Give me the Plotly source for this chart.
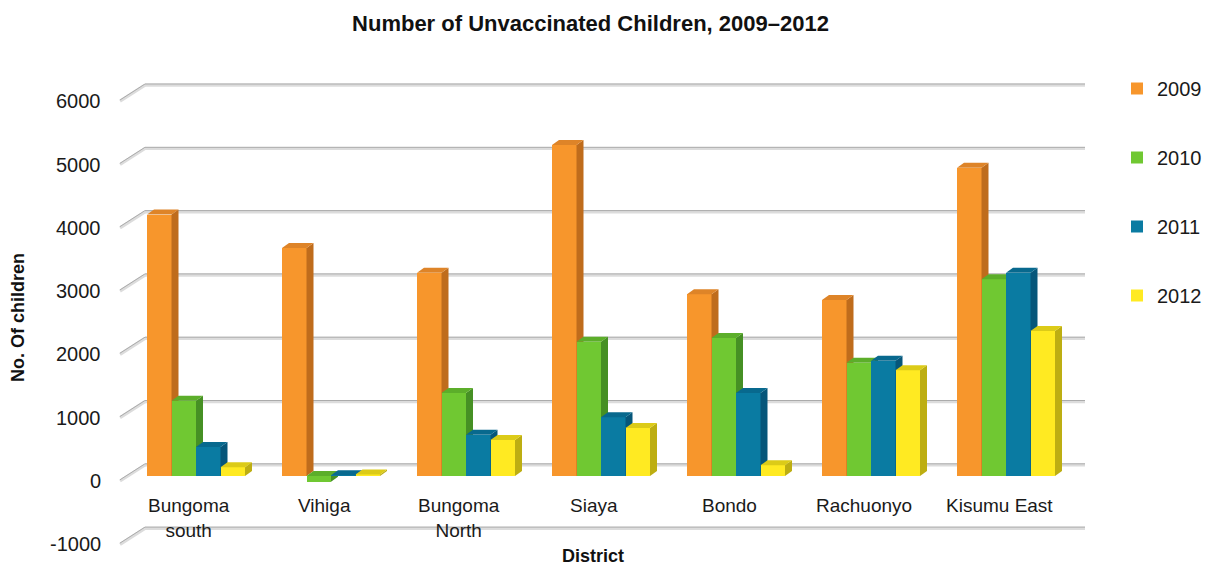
import plotly.graph_objects as go

# ---- data -------------------------------------------------------------
districts = ["Bungoma<br>south", "Vihiga", "Bungoma<br>North", "Siaya",
             "Bondo", "Rachuonyo", "Kisumu East"]
years = ["2009", "2010", "2011", "2012"]
v2009 = [4130, 3600, 3210, 5230, 2870, 2780, 4870]
v2010 = [1190, -90, 1310, 2120, 2180, 1790, 3110]
v2011 = [460, 10, 650, 930, 1310, 1820, 3210]
v2012 = [140, 25, 570, 760, 170, 1670, 2290]
y_ticks = [-1000, 0, 1000, 2000, 3000, 4000, 5000, 6000]

series = [v2009, v2010, v2011, v2012]

# face colours: front, side, top
front_cols = ["#F7962C", "#70C832", "#0A7BA2", "#FFEA22"]
side_cols = ["#BF6C1C", "#469024", "#06567A", "#BDAE12"]
top_cols = ["#DE8428", "#5CAE2A", "#08698E", "#DCCB18"]

# ---- geometry helpers --------------------------------------------------
W, H = 1207, 567
L, R, T, B = 100, 1100, 60, 567          # plot area in pixels
PX_CAT = 135.0                           # pixels per category
PX_UNIT = 63.3 / 1000.0                  # pixels per child
X0_PX = 196.0                            # pixel of category 0 centre
Y0_PX = 476.0                            # pixel of value 0 (bar base)


def xd(px):
    return (px - X0_PX) / PX_CAT


def yd(py):
    return (Y0_PX - py) / PX_UNIT


x_range = [xd(L), xd(R)]
y_range = [yd(B), yd(T)]

bar_w = 24.5 / PX_CAT
group_w = bar_w * 4
dx = 7 / PX_CAT            # bar depth, horizontal
dy = 5 / PX_UNIT           # bar depth, vertical
back_dy = 11 / PX_UNIT     # back wall offset from bar base

fig = go.Figure()

for i, (year, vals) in enumerate(zip(years, series)):
    ax = "" if i == 0 else str(i + 1)
    xa, ya = "x" + ax, "y" + ax
    off = -group_w / 2 + bar_w * (i + 0.5)
    xs = [k + off for k in range(len(vals))]
    fig.add_trace(go.Bar(
        x=xs, y=vals, width=bar_w, name=year, legendgroup=year,
        marker=dict(color=front_cols[i], line=dict(width=0)),
        xaxis=xa, yaxis=ya, hoverinfo="y+name",
    ))
    # side and top faces of each column
    for xc, v in zip(xs, vals):
        xl, xr = xc - bar_w / 2, xc + bar_w / 2
        lo, hi = min(0, v), max(0, v)
        fig.add_trace(go.Scatter(
            x=[xr, xr + dx, xr + dx, xr, xr],
            y=[lo, lo + dy, hi + dy, hi, lo],
            fill="toself", fillcolor=side_cols[i], mode="lines",
            line=dict(width=0, color=side_cols[i]), showlegend=False,
            hoverinfo="skip", xaxis=xa, yaxis=ya,
        ))
        fig.add_trace(go.Scatter(
            x=[xl, xl + dx, xr + dx, xr, xl],
            y=[hi, hi + dy, hi + dy, hi, hi],
            fill="toself", fillcolor=top_cols[i], mode="lines",
            line=dict(width=0, color=top_cols[i]), showlegend=False,
            hoverinfo="skip", xaxis=xa, yaxis=ya,
        ))

# ---- back wall gridlines and slanted ticks -----------------------------
shapes = []
gx0, gx1 = xd(145), xd(1085)
fx = xd(120)
for v in y_ticks:
    yb = v + back_dy
    yf = v - 5 / PX_UNIT
    for col, wid, shift in (("#dcdcdc", 3.2, 0), ("#ababab", 1, 1.2)):
        sy = shift / PX_UNIT
        shapes.append(dict(type="line", xref="x", yref="y", layer="below",
                           x0=gx0, x1=gx1, y0=yb + sy, y1=yb + sy,
                           line=dict(color=col, width=wid)))
        shapes.append(dict(type="line", xref="x", yref="y", layer="below",
                           x0=fx, x1=gx0, y0=yf + sy, y1=yb + sy,
                           line=dict(color=col, width=wid)))

# ---- text --------------------------------------------------------------
FONT = "Liberation Sans, Arial, sans-serif"
annotations = []
for v in y_ticks:
    annotations.append(dict(
        x=(103 - L) / (R - L), xref="paper", xanchor="right",
        y=v - 5 / PX_UNIT, yref="y", yanchor="middle",
        text=str(v), showarrow=False, font=dict(size=20, color="#1a1a1a", family=FONT)))
for k, name in enumerate(districts):
    annotations.append(dict(
        x=k - 7 / PX_CAT, xref="x", xanchor="center",
        y=yd(493), yref="y", yanchor="top",
        text=name, showarrow=False, font=dict(size=19, color="#1a1a1a", family=FONT)))
annotations.append(dict(
    x=(593 - L) / (R - L), xref="paper", xanchor="center",
    y=yd(556), yref="y", yanchor="middle", text="<b>District</b>",
    showarrow=False, font=dict(size=18, color="#111111", family=FONT)))
annotations.append(dict(
    x=(18 - L) / (R - L), xref="paper", xanchor="center",
    y=yd(318), yref="y", yanchor="middle", text="<b>No. Of children</b>",
    textangle=-90, showarrow=False, font=dict(size=18, color="#111111", family=FONT)))

axis_common = dict(visible=False, showgrid=False, zeroline=False, fixedrange=True)
layout = dict(
    width=W, height=H,
    margin=dict(l=L, r=W - R, t=T, b=H - B, pad=0),
    paper_bgcolor="white", plot_bgcolor="white",
    title=dict(text="<b>Number of Unvaccinated Children, 2009\u20132012</b>",
               x=590.5 / W, xref="container", xanchor="center",
               y=1 - 23 / H, yref="container", yanchor="middle",
               font=dict(size=22, color="#111111", family=FONT)),
    showlegend=True,
    legend=dict(x=(1117 - L) / (R - L), xanchor="left",
                y=(B - 69) / (B - T), yanchor="top",
                traceorder="grouped", tracegroupgap=40,
                font=dict(size=20, color="#1a1a1a", family=FONT),
                bgcolor="rgba(0,0,0,0)"),
    shapes=shapes, annotations=annotations,
    bargap=0, hovermode="closest",
    xaxis=dict(range=x_range, **axis_common),
    yaxis=dict(range=y_range, **axis_common),
)
for i in range(2, 5):
    layout["xaxis%d" % i] = dict(range=x_range, overlaying="x", **axis_common)
    layout["yaxis%d" % i] = dict(range=y_range, overlaying="y", **axis_common)

fig.update_layout(**layout)
fig.write_html("out.html")
